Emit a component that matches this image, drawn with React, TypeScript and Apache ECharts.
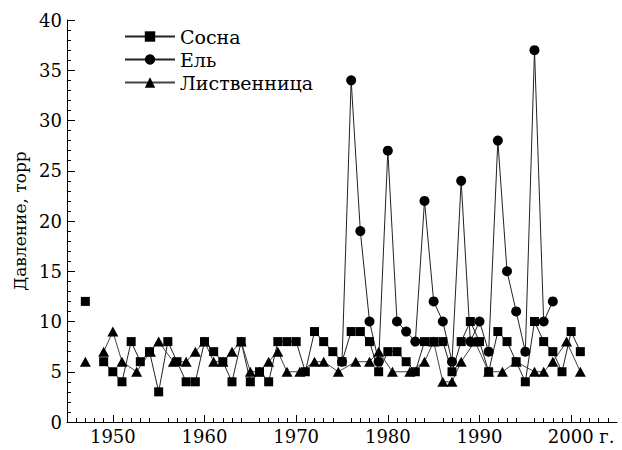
import React, { useEffect, useRef } from "react";
import * as echarts from "echarts";

// Сосна (pine)
const pineYears = [1947, 1948, 1949, 1950, 1951, 1952, 1953, 1954, 1955, 1956, 1957, 1958, 1959, 1960, 1961, 1962, 1963, 1964, 1965, 1966, 1967, 1968, 1969, 1970, 1971, 1972, 1973, 1974, 1975, 1976, 1977, 1978, 1979, 1980, 1981, 1982, 1983, 1984, 1985, 1986, 1987, 1988, 1989, 1990, 1991, 1992, 1993, 1994, 1995, 1996, 1997, 1998, 1999, 2000, 2001];
const pineValues = [12, null, 6, 5, 4, 8, 6, 7, 3, 8, 6, 4, 4, 8, 7, 6, 4, 8, 4, 5, 4, 8, 8, 8, 5, 9, 8, 7, 6, 9, 9, 8, 5, 7, 7, 6, 5, 8, 8, 8, 5, 8, 10, 8, 5, 9, 8, 6, 4, 10, 8, 7, 5, 9, 7];

// Ель (spruce)
const spruceYears = [1975, 1976, 1977, 1978, 1979, 1980, 1981, 1982, 1983, 1984, 1985, 1986, 1987, 1988, 1989, 1990, 1991, 1992, 1993, 1994, 1995, 1996, 1997, 1998];
const spruceValues = [6, 34, 19, 10, 6, 27, 10, 9, 8, 22, 12, 10, 6, 24, 8, 10, 7, 28, 15, 11, 7, 37, 10, 12];

// Лиственница (larch)
const larchYears = [1947, 1948, 1949, 1950, 1951, 1952.6, 1954.1, 1955, 1956.6, 1958, 1959, 1960, 1961, 1962, 1963, 1964, 1965, 1966, 1967, 1968, 1969, 1970.4, 1972, 1973, 1974.6, 1976.5, 1978, 1979, 1980.5, 1982.4, 1984, 1985, 1986, 1987, 1988, 1989.5, 1991, 1992.5, 1994, 1996, 1997, 1998, 1999.5, 2001];
const larchValues = [6, null, 7, 9, 6, 5, 7, 8, 6, 6, 7, 8, 6, 6, 7, 8, 5, 5, 6, 7, 5, 5, 6, 6, 5, 6, 6, 7, 5, 5, 6, 8, 4, 4, 6, 8, 5, 5, 6, 5, 5, 6, 8, 5];

const seriesNames = ["Сосна", "Ель", "Лиственница"];
const majorYears = [1950, 1960, 1970, 1980, 1990, 2000];
const yAxisTitle = "Давление, торр";
const yearSuffix = " г.";

const FONT = "DejaVu Serif";

function pairs(xs: number[], ys: (number | null)[]) {
  return xs.map((x, i) => [x, ys[i] === null ? "-" : ys[i]]);
}

export default function App() {
  const ref = useRef<HTMLDivElement>(null);
  useEffect(() => {
    if (!ref.current) return;
    const chart = echarts.init(ref.current, undefined, { renderer: "svg" });
    const lineStyle = { color: "#222", width: 1 };
    const itemStyle = { color: "#000" };
    chart.setOption({
      animation: false,
      textStyle: { fontFamily: FONT },
      grid: { left: 67, right: 5, top: 20, bottom: 28, containLabel: false },
      legend: {
        orient: "vertical",
        left: 119,
        top: 22,
        itemWidth: 50,
        itemHeight: 13,
        itemGap: 4,
        data: seriesNames,
        textStyle: { fontSize: 19, fontFamily: FONT, color: "#000" },
      },
      xAxis: {
        type: "value",
        min: 1945,
        max: 2005,
        interval: 10,
        axisLine: { show: true, onZero: false, lineStyle: { color: "#000", width: 1 } },
        axisTick: { show: true, inside: true, length: 7, customValues: majorYears, lineStyle: { color: "#000" } },
        minorTick: { show: true, splitNumber: 10, length: 4, lineStyle: { color: "#000" } },
        axisLabel: {
          customValues: majorYears,
          formatter: (v: number) => (v === 2000 ? "{p| }" + String(v) + yearSuffix : String(v)),
          rich: { p: { width: 20, fontFamily: FONT, fontSize: 18 } },
          fontSize: 18,
          fontFamily: FONT,
          color: "#000",
          margin: 5,
        },
        splitLine: { show: false },
        minorSplitLine: { show: false },
      },
      yAxis: {
        type: "value",
        min: 0,
        max: 40,
        interval: 5,
        axisLine: { show: true, lineStyle: { color: "#000", width: 1 } },
        axisTick: { show: true, inside: true, length: 8, lineStyle: { color: "#000" } },
        minorTick: { show: true, splitNumber: 5, length: 4, lineStyle: { color: "#000" } },
        axisLabel: { fontSize: 18, fontFamily: FONT, color: "#000", margin: 5 },
        splitLine: { show: false },
        minorSplitLine: { show: false },
        name: yAxisTitle,
        nameLocation: "middle",
        nameGap: 38,
        nameTextStyle: { fontSize: 17, fontFamily: FONT, color: "#000" },
      },
      series: [
        {
          name: seriesNames[0],
          type: "line",
          data: pairs(pineYears, pineValues),
          symbol: "rect",
          symbolSize: 9,
          showAllSymbol: true,
          lineStyle,
          itemStyle,
        },
        {
          name: seriesNames[1],
          type: "line",
          data: pairs(spruceYears, spruceValues),
          symbol: "circle",
          symbolSize: 10,
          showAllSymbol: true,
          lineStyle,
          itemStyle,
        },
        {
          name: seriesNames[2],
          type: "line",
          data: pairs(larchYears, larchValues),
          symbol: "triangle",
          symbolSize: [11, 10],
          showAllSymbol: true,
          lineStyle: { color: "#444", width: 1 },
          itemStyle,
        },
      ],
    });
    return () => chart.dispose();
  }, []);
  return (
    <div
      ref={ref}
      style={{ position: "absolute", left: 0, top: 0, width: 622, height: 450, background: "#fff" }}
    />
  );
}
